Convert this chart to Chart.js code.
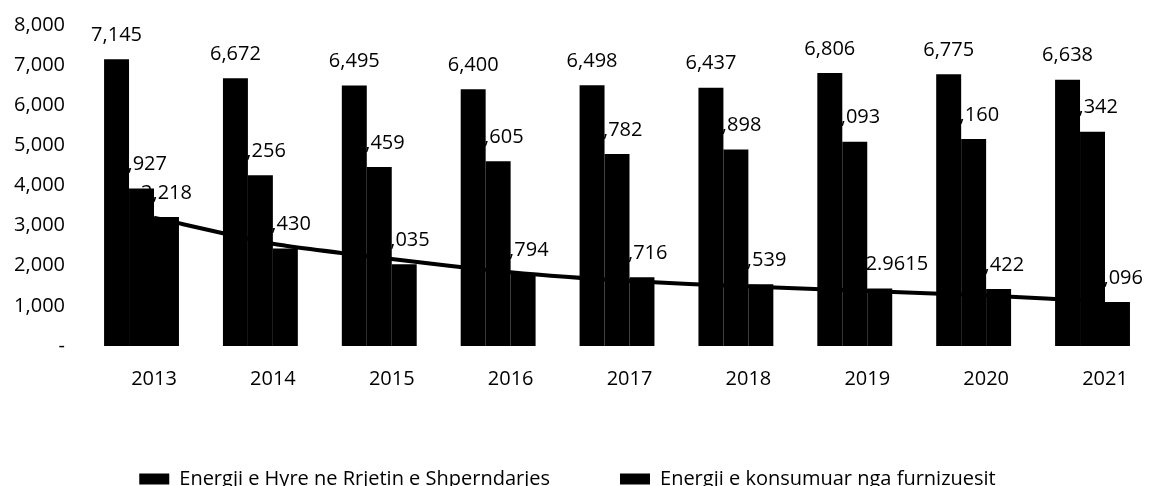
<!DOCTYPE html>
<html>
<head>
<meta charset="utf-8">
<script src="https://cdn.jsdelivr.net/npm/chart.js@4/dist/chart.umd.min.js"></script>
<style>
  html, body { margin: 0; padding: 0; background: #fff; overflow: hidden; }
  #wrap { width: 1151px; height: 499px; position: relative; }
</style>
</head>
<body>
<div id="wrap"><canvas id="c"></canvas></div>
<script>
// ---- data ----
const years = ['2013', '2014', '2015', '2016', '2017', '2018', '2019', '2020', '2021'];
const inflow = [7145, 6672, 6495, 6400, 6498, 6437, 6806, 6775, 6638];
const consumed = [3927, 4256, 4459, 4605, 4782, 4898, 5093, 5160, 5342];
const losses = [3218, 2430, 2035, 1794, 1716, 1539, 1432.9615, 1422, 1096];
const trendLine = [3200, 2550, 2170, 1840, 1620, 1480, 1370, 1260, 1100];
const emptySlot = [null, null, null, null, null, null, null, null, null];
const seriesNames = ['Energji e Hyre ne Rrjetin e Shperndarjes', 'Energji e konsumuar nga furnizuesit', 'Humbjet', ''];
const yTicks = [0, 1000, 2000, 3000, 4000, 5000, 6000, 7000, 8000];

const FONT = "'Open Sans', 'Noto Sans', sans-serif";

function fmt(v) {
  return Number.isInteger(v) ? v.toLocaleString('en-US') : String(v);
}

const labelsBehind = {
  id: 'labelsBehind',
  beforeDatasetsDraw(chart) {
    const ctx = chart.ctx;
    ctx.save();
    ctx.font = '20px ' + FONT;
    ctx.fillStyle = '#000';
    ctx.textAlign = 'center';
    ctx.textBaseline = 'middle';
    [0, 1, 2].forEach(di => {
      const meta = chart.getDatasetMeta(di);
      const data = chart.data.datasets[di].data;
      meta.data.forEach((el, i) => {
        if (data[i] == null) return;
        ctx.fillText(fmt(data[i]), el.x, el.y - 24);
      });
    });
    ctx.restore();
  }
};

new Chart(document.getElementById('c'), {
  type: 'bar',
  data: {
    labels: years,
    datasets: [
      { label: seriesNames[0], data: inflow, backgroundColor: '#000', borderWidth: 0, clip: false, order: 1 },
      { label: seriesNames[1], data: consumed, backgroundColor: '#000', borderWidth: 0, clip: false, order: 2 },
      { label: seriesNames[2], data: losses, backgroundColor: '#000', borderWidth: 0, clip: false, order: 3 },
      { label: seriesNames[3], data: emptySlot, backgroundColor: '#000', borderWidth: 0, clip: false, order: 4 },
      { type: 'line', label: 'trend', data: trendLine, borderColor: '#000', borderWidth: 4,
        pointRadius: 0, fill: false, tension: 0.2, clip: false, order: 10 }
    ]
  },
  options: {
    responsive: true,
    maintainAspectRatio: false,
    animation: false,
    layout: { padding: { left: 0, right: 16, top: 25, bottom: 0 } },
    datasets: { bar: { categoryPercentage: 0.84, barPercentage: 1.0 } },
    plugins: {
      tooltip: { enabled: false },
      legend: {
        position: 'bottom',
        align: 'center',
        labels: {
          filter: (item) => item.datasetIndex < 2,
          boxWidth: 30,
          boxHeight: 11,
          padding: 70,
          color: '#000',
          font: { family: FONT, size: 20 }
        }
      }
    },
    scales: {
      x: {
        offset: false,
        grid: { display: false, drawTicks: false },
        border: { display: false },
        ticks: { color: '#000', font: { family: FONT, size: 20 }, padding: 21, maxRotation: 0, autoSkip: false },
        afterFit(scale) { scale.height = 53; scale.paddingLeft = 0; scale.paddingRight = 0; }
      },
      y: {
        min: 0, max: 8000,
        grid: { display: false, drawTicks: false },
        border: { display: false },
        afterBuildTicks(scale) { scale.ticks = yTicks.map(v => ({ value: v })); },
        ticks: {
          color: '#000', font: { family: FONT, size: 20 }, padding: 89,
          callback: (v) => v === 0 ? '-' : v.toLocaleString('en-US')
        },
        afterFit(scale) { scale.width = 154; scale.paddingTop = 12; scale.paddingBottom = 12; }
      },
      yRight: {
        position: 'right',
        display: true,
        min: 0, max: 8000,
        grid: { display: false, drawTicks: false },
        border: { display: false },
        ticks: { display: false },
        afterFit(scale) { scale.width = 30; scale.paddingTop = 0; scale.paddingBottom = 0; }
      }
    }
  },
  plugins: [labelsBehind]
});
</script>
</body>
</html>
